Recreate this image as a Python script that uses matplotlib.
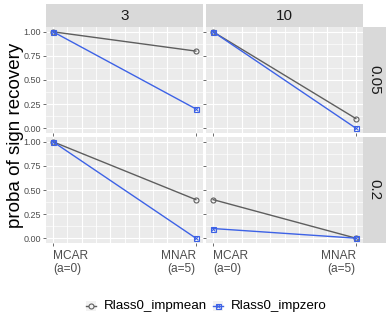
import matplotlib
matplotlib.use('Agg')
import matplotlib.pyplot as plt
from matplotlib.lines import Line2D
from matplotlib.patches import Rectangle

# ---- data ----
col_levels = ['3', '10']
row_levels = ['0.05', '0.2']
x_vals = [0, 5]
x_labels = ['MCAR\n(a=0)', 'MNAR\n(a=5)']
series_names = ['Rlass0_impmean', 'Rlass0_impzero']
# values[row][col] = [y at MCAR, y at MNAR]
impmean_vals = [[[1.0, 0.8], [1.0, 0.1]],
                [[1.0, 0.4], [0.4, 0.0]]]
impzero_vals = [[[1.0, 0.2], [1.0, 0.0]],
                [[1.0, 0.0], [0.1, 0.0]]]
y_ticks = [0.0, 0.25, 0.5, 0.75, 1.0]
y_ticklabels = ['0.00', '0.25', '0.50', '0.75', '1.00']

# ---- style ----
W, H = 390, 321
plt.rcParams['font.family'] = ['Liberation Sans', 'DejaVu Sans']
grey_col = '#5E5E5E'
blue_col = '#3D62E6'
panel_bg = '#EBEBEB'
strip_bg = '#D9D9D9'

fig = plt.figure(figsize=(W / 100, H / 100), dpi=100)

def px_rect(x0, y0, x1, y1):
    return [x0 / W, 1 - y1 / H, (x1 - x0) / W, (y1 - y0) / H]

col_x = [(46, 203), (206, 363)]
row_y = [(27, 133), (137, 243)]

for r in range(2):
    for c in range(2):
        x0, x1 = col_x[c]
        y0, y1 = row_y[r]
        ax = fig.add_axes(px_rect(x0, y0, x1, y1))
        ax.set_facecolor(panel_bg)
        for s in ax.spines.values():
            s.set_visible(False)
        ax.set_xlim(-0.25, 5.25)
        ax.set_ylim(-0.05, 1.05)
        # grid
        for gx in [i * 0.5 for i in range(11)]:
            ax.axvline(gx, color='white', lw=0.8 if gx % 1 == 0 else 0.6, zorder=0)
        for gy in y_ticks:
            ax.axhline(gy, color='white', lw=0.8, zorder=0)
        for gy in [0.125, 0.375, 0.625, 0.875]:
            ax.axhline(gy, color='white', lw=0.45, zorder=0)
        # data
        ax.plot(x_vals, impmean_vals[r][c], color=grey_col, lw=1.0, zorder=3,
                marker='o', ms=3.6, mfc='none', mec=grey_col, mew=0.8)
        ax.plot(x_vals, impzero_vals[r][c], color=blue_col, lw=1.0, zorder=4,
                marker='s', ms=3.6, mfc='none', mec=blue_col, mew=0.8)
        ax.plot(x_vals, impzero_vals[r][c], ls='none', zorder=5,
                marker='x', ms=3.0, mec=blue_col, mew=0.7)
        ax.set_yticks(y_ticks)
        ax.set_xticks(x_vals)
        ax.tick_params(axis='both', length=2, width=0.5, color='#333333')
        ax.tick_params(axis='y', pad=1.5, labelsize=6.5, labelcolor='#4D4D4D')
        ax.tick_params(axis='x', pad=3, labelsize=8.6, labelcolor='#4D4D4D')
        if c == 0:
            ax.set_yticklabels(y_ticklabels)
        else:
            ax.set_yticklabels([])
        if r == 1:
            labs = ax.set_xticklabels(x_labels)
            labs[0].set_ha('left'); labs[0].set_multialignment('left')
            labs[1].set_ha('right'); labs[1].set_multialignment('right')
            labs[0].set_linespacing(1.15); labs[1].set_linespacing(1.15)
        else:
            ax.set_xticklabels([])

# strips top
for c in range(2):
    x0, x1 = col_x[c]
    sax = fig.add_axes(px_rect(x0, 4, x1, 27))
    sax.set_facecolor(strip_bg)
    sax.set_xticks([]); sax.set_yticks([])
    for s in sax.spines.values():
        s.set_visible(False)
    sax.text(0.5, 0.47, col_levels[c], ha='center', va='center',
             fontsize=11, color='#1A1A1A', transform=sax.transAxes)
# strips right
for r in range(2):
    y0, y1 = row_y[r]
    sax = fig.add_axes(px_rect(363, y0, 386, y1))
    sax.set_facecolor(strip_bg)
    sax.set_xticks([]); sax.set_yticks([])
    for s in sax.spines.values():
        s.set_visible(False)
    sax.text(0.5, 0.5, row_levels[r], ha='center', va='center', rotation=-90,
             fontsize=11, color='#1A1A1A', transform=sax.transAxes)

# y label
fig.text(16 / W, 1 - 135 / H, 'proba of sign recovery', rotation=90,
         ha='center', va='center', fontsize=13.5, color='black')

# legend (manual)
def key(xc, yc, color, first):
    fig.patches.append(Rectangle(((xc - 5) / W, 1 - (yc + 5) / H), 10 / W, 10 / H,
                                 transform=fig.transFigure, facecolor='#F2F2F2',
                                 edgecolor='none'))
    fig.lines.append(Line2D([(xc - 5) / W, (xc + 5) / W], [1 - yc / H] * 2,
                            transform=fig.transFigure, color=color, lw=1.0))
    if first:
        fig.lines.append(Line2D([xc / W], [1 - yc / H], transform=fig.transFigure,
                                marker='o', ms=3.6, mfc='#F2F2F2', mec=color, mew=0.8))
    else:
        fig.lines.append(Line2D([xc / W], [1 - yc / H], transform=fig.transFigure,
                                marker='s', ms=3.6, mfc='none', mec=color, mew=0.8))
        fig.lines.append(Line2D([xc / W], [1 - yc / H], transform=fig.transFigure,
                                marker='x', ms=3.0, mec=color, mew=0.7))

leg_y = 306
key(91, leg_y, grey_col, True)
fig.text(104 / W, 1 - leg_y / H, series_names[0], ha='left', va='center',
         fontsize=9.6, color='black')
key(218, leg_y, blue_col, False)
fig.text(231 / W, 1 - leg_y / H, series_names[1], ha='left', va='center',
         fontsize=9.6, color='black')

fig.savefig('out.png', dpi=100)
